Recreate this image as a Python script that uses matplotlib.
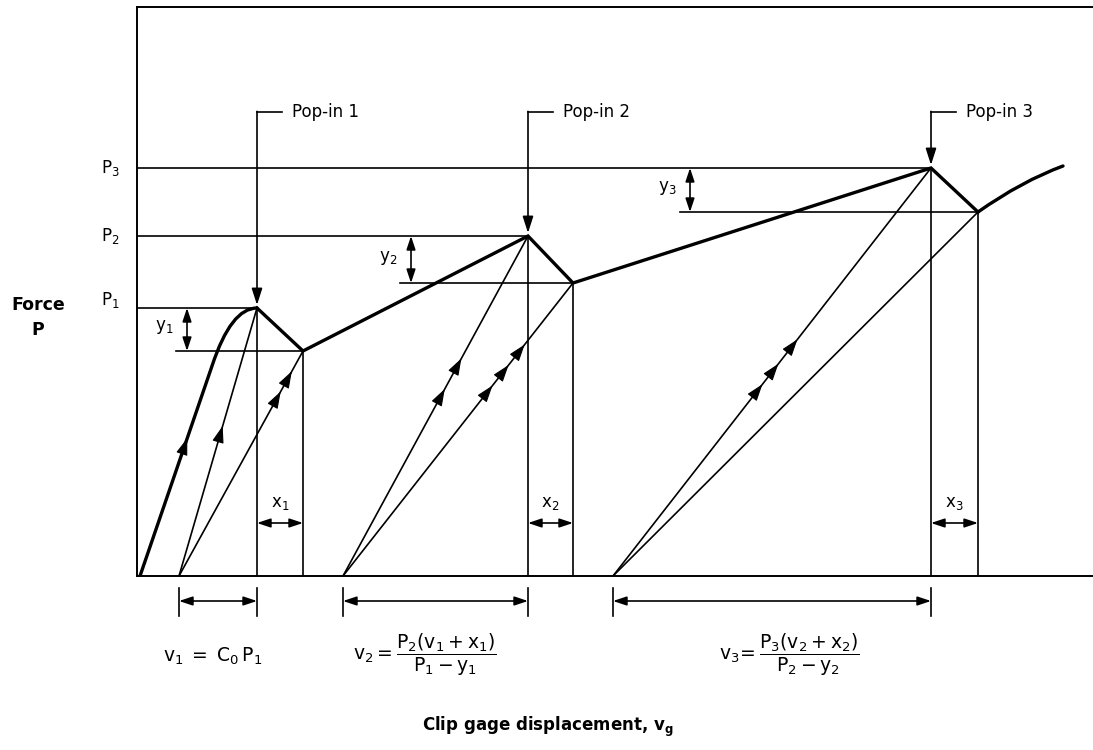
import numpy as np
import matplotlib
matplotlib.use("Agg")
import matplotlib.pyplot as plt
from matplotlib.path import Path
from matplotlib.patches import PathPatch

plt.rcParams['font.family'] = ['DejaVu Sans']
plt.rcParams['mathtext.default'] = 'regular'

# ---- schematic data (displacement units, force units) ----
P_levels = [268, 340, 408]          # P1, P2, P3
v_pop = [120, 391, 794]             # displacement at each pop-in
v_after = [166, 436, 841]           # displacement after pop-in drop
P_after = [225, 293, 364]           # force after pop-in drop (P - y)
v_unload0 = [42, 206, 476]          # zero-force intercepts of secant lines
# initial loading curve: start, end of linear part, bezier control, peak
curve1_v = [3, 75, 94, 120]
curve1_P = [0, 210, 268, 268]
# final rising curve after pop-in 3: start, bezier control, end
tail_v = [841, 885, 926]
tail_P = [364, 395, 410]
# arrow fractions along lines
arr_load1 = [0.61]
arr_sec_peak = [[0.56], [0.55, 0.64], [0.47, 0.52, 0.58]]
arr_sec_after = [[0.82, 0.91], [0.65, 0.72, 0.79], []]
pop_labels = ['Pop-in 1', 'Pop-in 2', 'Pop-in 3']
P_labels = ['P$_1$', 'P$_2$', 'P$_3$']
x_labels = ['x$_1$', 'x$_2$', 'x$_3$']
y_labels = ['y$_1$', 'y$_2$', 'y$_3$']
y_dim_start = [39, 263, 543]
y_dim_x = [50, 274, 553]
pop_label_y = 464

W, H = 1093, 750
fig = plt.figure(figsize=(W/100, H/100), dpi=100)
ax = fig.add_axes([137/W, 174/H, 956/W, 569/H])
ax.set_xlim(0, 956)
ax.set_ylim(0, 569)
ax.set_xticks([]); ax.set_yticks([])
ax.spines['right'].set_visible(False)
for s in ['left', 'top', 'bottom']:
    ax.spines[s].set_linewidth(1.4)

k = 'black'
thick = 2.4
thin = 1.2

def arrow_on_line(p0, p1, frac):
    p0 = np.array(p0, float); p1 = np.array(p1, float)
    tip = p0 + frac * (p1 - p0)
    d = (p1 - p0) / np.hypot(*(p1 - p0))
    tail = tip - d * 12
    ax.annotate('', xy=tip, xytext=tail,
                arrowprops=dict(arrowstyle='-|>,head_length=1.05,head_width=0.36',
                                mutation_scale=10, color=k, lw=0.8,
                                shrinkA=0, shrinkB=0))

# main thick load path
c1 = Path(list(zip(curve1_v, curve1_P)),
          [Path.MOVETO, Path.LINETO, Path.CURVE3, Path.CURVE3])
ax.add_patch(PathPatch(c1, fc='none', ec=k, lw=thick, capstyle='round', joinstyle='round'))
path_v = [v_pop[0], v_after[0], v_pop[1], v_after[1], v_pop[2], v_after[2]]
path_P = [P_levels[0], P_after[0], P_levels[1], P_after[1], P_levels[2], P_after[2]]
ax.plot(path_v, path_P, color=k, lw=thick, solid_joinstyle='miter')
tp = Path(list(zip(tail_v, tail_P)), [Path.MOVETO, Path.CURVE3, Path.CURVE3])
ax.add_patch(PathPatch(tp, fc='none', ec=k, lw=thick, capstyle='round'))
for f in arr_load1:
    arrow_on_line((curve1_v[0], curve1_P[0]), (curve1_v[1], curve1_P[1]), f * 226 / 210)

for i in range(3):
    ax.plot([0, v_pop[i]], [P_levels[i], P_levels[i]], color=k, lw=thin)
    ax.plot([v_pop[i], v_pop[i]], [0, P_levels[i]], color=k, lw=thin)
    ax.plot([v_after[i], v_after[i]], [0, P_after[i]], color=k, lw=thin)
    ax.plot([v_unload0[i], v_pop[i]], [0, P_levels[i]], color=k, lw=thin)
    ax.plot([v_unload0[i], v_after[i]], [0, P_after[i]], color=k, lw=thin)
    for f in arr_sec_peak[i]:
        arrow_on_line((v_unload0[i], 0), (v_pop[i], P_levels[i]), f)
    for f in arr_sec_after[i]:
        arrow_on_line((v_unload0[i], 0), (v_after[i], P_after[i]), f)
    # y dimension
    ax.plot([y_dim_start[i], v_after[i]], [P_after[i], P_after[i]], color=k, lw=thin)
    ax.annotate('', xy=(y_dim_x[i], P_levels[i]), xytext=(y_dim_x[i], P_after[i]),
                arrowprops=dict(arrowstyle='<|-|>,head_length=0.9,head_width=0.3',
                                mutation_scale=9, color=k, lw=thin, shrinkA=0, shrinkB=0))
    ax.text(y_dim_x[i] - 14, (P_levels[i] + P_after[i]) / 2 + 2, y_labels[i],
            fontsize=12, ha='right', va='center')
    # x dimension
    ax.annotate('', xy=(v_pop[i], 53), xytext=(v_after[i], 53),
                arrowprops=dict(arrowstyle='<|-|>,head_length=0.9,head_width=0.3',
                                mutation_scale=9, color=k, lw=thin, shrinkA=0, shrinkB=0))
    ax.text((v_pop[i] + v_after[i]) / 2, 73, x_labels[i], fontsize=12, ha='center', va='center')
    # pop-in leader arrows
    ax.plot([v_pop[i], v_pop[i] + 25], [pop_label_y, pop_label_y], color=k, lw=thin)
    ax.annotate('', xy=(v_pop[i], P_levels[i] + 3), xytext=(v_pop[i], pop_label_y + 0.6),
                arrowprops=dict(arrowstyle='-|>,head_length=1.0,head_width=0.32',
                                mutation_scale=10, color=k, lw=thin, shrinkA=0, shrinkB=0))
    ax.text(v_pop[i] + 35, pop_label_y, pop_labels[i], fontsize=12, ha='left', va='center')
    ax.text(-27, P_levels[i] + (8 if i == 0 else 0), P_labels[i], fontsize=12,
            ha='center', va='center', clip_on=False)
    # bottom dimension lines
    for xv in (v_unload0[i], v_pop[i]):
        ax.plot([xv, xv], [-12, -40], color=k, lw=thin, clip_on=False)
    ax.annotate('', xy=(v_unload0[i], -25), xytext=(v_pop[i], -25),
                arrowprops=dict(arrowstyle='<|-|>,head_length=0.9,head_width=0.3',
                                mutation_scale=9, color=k, lw=thin, shrinkA=0, shrinkB=0),
                annotation_clip=False)

ax.text(-99, 271, 'Force', fontsize=12.5, fontweight='bold', ha='center', va='center')
ax.text(-99, 246, 'P', fontsize=12.5, fontweight='bold', ha='center', va='center')

ax.text(76, -80, r'$v_1\; = \;C_0\, P_1$', fontsize=13.5, ha='center', va='center')
ax.text(288, -79, r'$v_2 = \dfrac{P_2(v_1 + x_1)}{P_1 - y_1}$', fontsize=13.5, ha='center', va='center')
ax.text(652, -79, r'$v_3\!=\dfrac{P_3(v_2 + x_2)}{P_2 - y_2}$', fontsize=13.5, ha='center', va='center')
ax.text(411, -151, r'Clip gage displacement, $\mathbf{v_g}$', fontsize=12,
        fontweight='bold', ha='center', va='center')

fig.savefig('out.png', dpi=100)
